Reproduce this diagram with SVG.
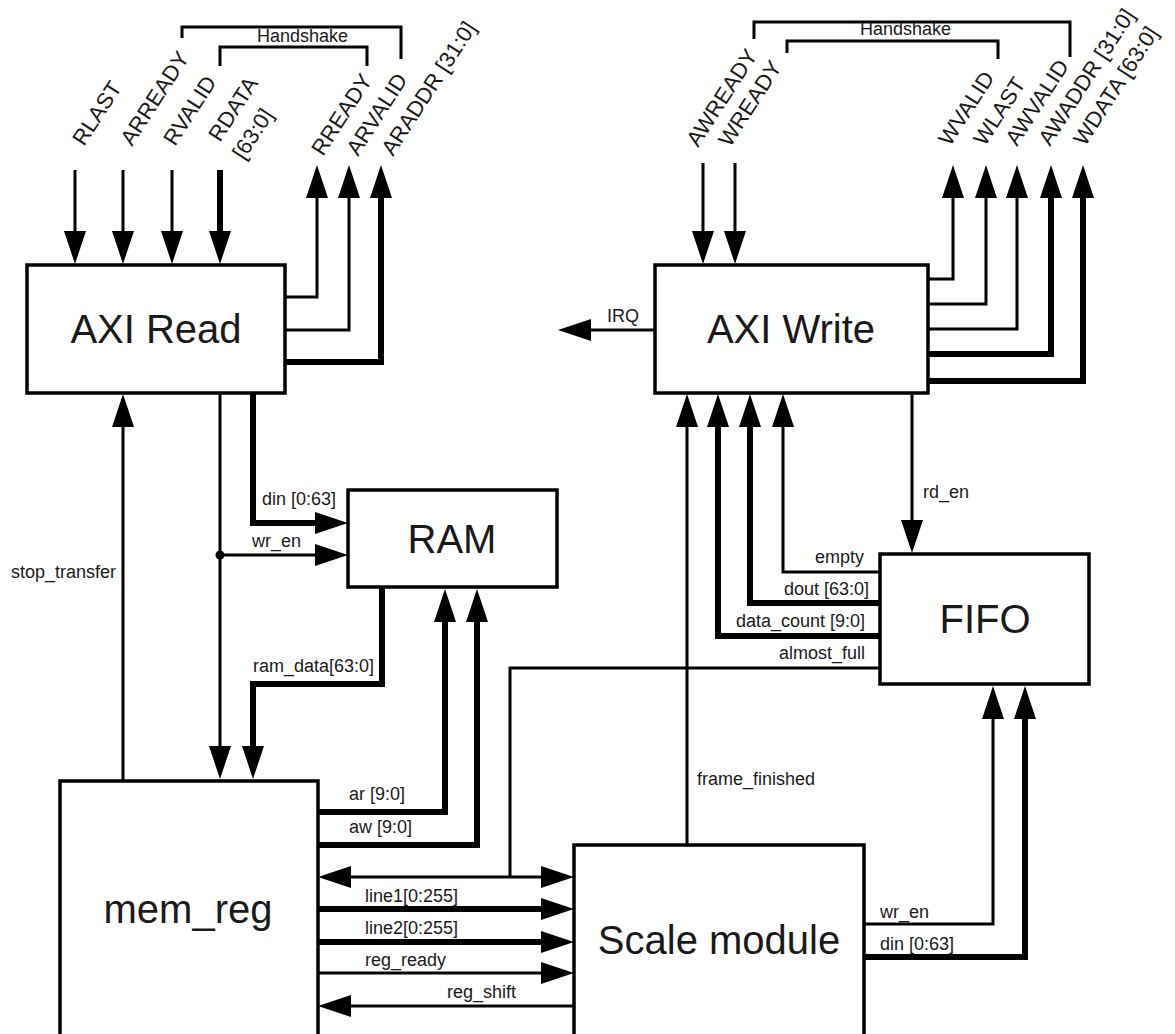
<svg xmlns="http://www.w3.org/2000/svg" width="1175" height="1034" viewBox="0 0 1175 1034">
<style>
.box{fill:#fff;stroke:#000;stroke-width:3.5}
.w{fill:none;stroke:#000;stroke-width:3}
.t{fill:none;stroke:#000;stroke-width:6}
.a{marker-end:url(#ah)}
.b{marker-start:url(#ah);marker-end:url(#ah)}
.big{font-family:"Liberation Sans",Arial,sans-serif;font-size:40px;fill:#1a1a1a;text-anchor:middle}
.lb{font-family:"Liberation Sans",Arial,sans-serif;font-size:18px;fill:#1a1a1a}
.r{text-anchor:end}
.rot{font-family:"Liberation Sans",Arial,sans-serif;font-size:22px;fill:#1a1a1a}
</style>
<defs>
<marker id="ah" markerUnits="userSpaceOnUse" markerWidth="33" markerHeight="22" viewBox="0 0 33 22" refX="0" refY="11" orient="auto-start-reverse"><path d="M0,0 L33,11 L0,22 z" fill="#000"/></marker>
</defs>
<rect width="1175" height="1034" fill="#fff"/>

<g id="connectors">
<!-- AXI Read inputs -->
<path class="w a" d="M75,170 V231"/>
<path class="w a" d="M123,170 V231"/>
<path class="w a" d="M172,170 V231"/>
<path class="t a" d="M220,170 V231"/>
<!-- AXI Read outputs -->
<path class="w a" d="M285,297 H317 V198"/>
<path class="w a" d="M285,330 H349 V198"/>
<path class="t a" d="M285,362 H381 V198"/>
<!-- AXI Write inputs -->
<path class="w a" d="M703,163 V231"/>
<path class="w a" d="M735,163 V231"/>
<!-- AXI Write outputs -->
<path class="w a" d="M928,279 H953 V198"/>
<path class="w a" d="M928,304 H986 V198"/>
<path class="w a" d="M928,329 H1017 V198"/>
<path class="t a" d="M928,354 H1051 V198"/>
<path class="t a" d="M928,381 H1083 V198"/>
<!-- handshake brackets -->
<path class="w" d="M182,38 V27 H401 V59" stroke-width="3.5"/>
<path class="w" d="M220,66 V47 H367 V66" stroke-width="3.5"/>
<path class="w" d="M754,39 V22 H1070 V57" stroke-width="3.5"/>
<path class="w" d="M787,53 V41 H998 V59" stroke-width="3.5"/>
<!-- IRQ -->
<path class="w a" d="M655,330 H591"/>
<!-- stop_transfer -->
<path class="w a" d="M123,781 V427"/>
<!-- wr_en to RAM and mem_reg -->
<path class="w a" d="M220,393 V746"/>
<path class="w a" d="M220,555 H315"/>
<circle cx="220" cy="555" r="4.5" fill="#000"/>
<!-- din to RAM -->
<path class="t a" d="M253,393 V523 H315"/>
<!-- ram_data -->
<path class="t a" d="M382,587 V684 H253 V746"/>
<!-- ar / aw -->
<path class="t a" d="M318,812 H445 V622"/>
<path class="t a" d="M318,845 H477 V622"/>
<!-- bidirectional + almost_full -->
<path class="w b" d="M351,877 H541"/>
<path class="w" d="M880,668 H510 V877"/>
<!-- line1 line2 reg_ready reg_shift -->
<path class="t a" d="M318,909 H541"/>
<path class="t a" d="M318,942 H541"/>
<path class="w a" d="M318,973 H541"/>
<path class="w a" d="M574,1006 H351"/>
<!-- frame_finished -->
<path class="w a" d="M687,845 V427"/>
<!-- FIFO to AXI Write -->
<path class="t a" d="M880,636 H718 V427"/>
<path class="t a" d="M880,603 H750 V427"/>
<path class="w a" d="M880,572 H783 V427"/>
<!-- rd_en -->
<path class="w a" d="M912,393 V520"/>
<!-- Scale to FIFO -->
<path class="w a" d="M864,924 H993 V719"/>
<path class="t a" d="M864,957 H1025 V719"/>
</g>

<g id="labels">
<text class="lb" x="257" y="42">Handshake</text>
<text class="lb" x="860" y="35">Handshake</text>
<text class="rot" transform="translate(84,147) rotate(-57)">RLAST</text>
<text class="rot" transform="translate(132,147) rotate(-57)">ARREADY</text>
<text class="rot" transform="translate(175,147) rotate(-57)">RVALID</text>
<text class="rot" transform="translate(220,143) rotate(-57)">RDATA</text>
<text class="rot" transform="translate(244,161) rotate(-57)">[63:0]</text>
<text class="rot" transform="translate(323,157) rotate(-57)">RREADY</text>
<text class="rot" transform="translate(358,157) rotate(-57)">ARVALID</text>
<text class="rot" transform="translate(393,157) rotate(-57)">ARADDR [31:0]</text>
<text class="rot" transform="translate(698,148) rotate(-57)">AWREADY</text>
<text class="rot" transform="translate(730,148) rotate(-57)">WREADY</text>
<text class="rot" transform="translate(950,147) rotate(-57)">WVALID</text>
<text class="rot" transform="translate(985,147) rotate(-57)">WLAST</text>
<text class="rot" transform="translate(1017,147) rotate(-57)">AWVALID</text>
<text class="rot" transform="translate(1050,147) rotate(-57)">AWADDR [31:0]</text>
<text class="rot" transform="translate(1085,147) rotate(-57)">WDATA [63:0]</text>
<text class="lb" x="607" y="322">IRQ</text>
<text class="lb" x="11" y="578">stop_transfer</text>
<text class="lb" x="262" y="505">din [0:63]</text>
<text class="lb" x="252" y="547">wr_en</text>
<text class="lb" x="253" y="672">ram_data[63:0]</text>
<text class="lb" x="349" y="800">ar [9:0]</text>
<text class="lb" x="349" y="833">aw [9:0]</text>
<text class="lb" x="365" y="902">line1[0:255]</text>
<text class="lb" x="365" y="934">line2[0:255]</text>
<text class="lb" x="365" y="966">reg_ready</text>
<text class="lb" x="447" y="998">reg_shift</text>
<text class="lb" x="923" y="498">rd_en</text>
<text class="lb r" x="864" y="563">empty</text>
<text class="lb r" x="869" y="595">dout [63:0]</text>
<text class="lb r" x="865" y="627">data_count [9:0]</text>
<text class="lb r" x="865" y="659">almost_full</text>
<text class="lb" x="697" y="785">frame_finished</text>
<text class="lb" x="880" y="918">wr_en</text>
<text class="lb" x="880" y="950">din [0:63]</text>
</g>

<g id="axi_read"><rect class="box" x="27" y="265" width="258" height="128"/><text class="big" x="156" y="343">AXI Read</text></g>
<g id="axi_write"><rect class="box" x="655" y="265" width="273" height="128"/><text class="big" x="791" y="343">AXI Write</text></g>
<g id="ram"><rect class="box" x="348" y="490" width="209" height="97"/><text class="big" x="452" y="553">RAM</text></g>
<g id="fifo"><rect class="box" x="880" y="554" width="209" height="130"/><text class="big" x="985" y="633">FIFO</text></g>
<g id="mem_reg"><rect class="box" x="60" y="781" width="258" height="270"/><text class="big" x="188" y="923">mem_reg</text></g>
<g id="scale_module"><rect class="box" x="574" y="845" width="290" height="206"/><text class="big" x="719" y="954">Scale module</text></g>
</svg>
